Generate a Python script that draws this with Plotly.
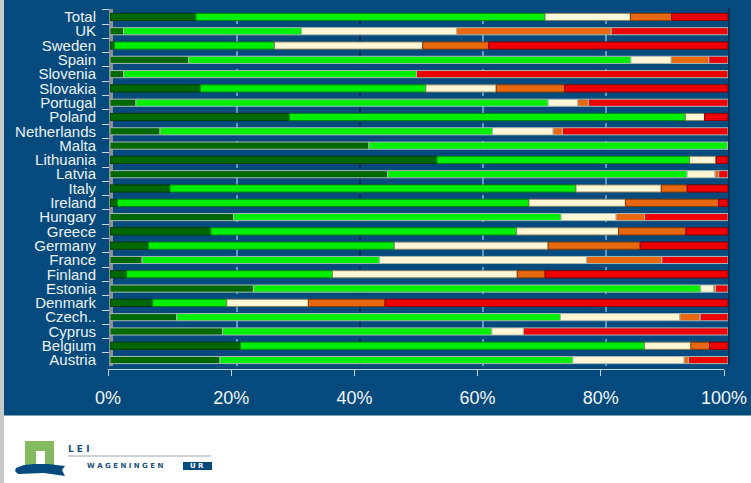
import plotly.graph_objects as go

W, H = 751, 483

countries = ["Total", "UK", "Sweden", "Spain", "Slovenia", "Slovakia", "Portugal", "Poland",
             "Netherlands", "Malta", "Lithuania", "Latvia", "Italy", "Ireland", "Hungary",
             "Greece", "Germany", "France", "Finland", "Estonia", "Denmark", "Czech..",
             "Cyprus", "Belgium", "Austria"]

# cumulative segment ends, percent
end_darkgreen = [13.9, 2.2, 0.7, 12.7, 2.2, 14.6, 4.2, 29.0, 8.1, 41.9, 52.9, 44.9, 9.7, 1.2, 20.0,
                 16.3, 6.2, 5.2, 2.7, 23.2, 6.9, 10.8, 18.2, 21.1, 17.8]
end_green = [70.4, 31.0, 26.6, 84.3, 49.6, 51.1, 70.9, 93.1, 61.9, 100.0, 93.8, 93.4, 75.4, 67.8, 73.0,
             65.8, 46.0, 43.6, 36.0, 95.6, 18.9, 72.9, 61.8, 86.5, 74.9]
end_cream = [84.2, 56.1, 50.6, 90.8, 49.6, 62.5, 75.7, 96.2, 71.7, 100.0, 98.1, 97.9, 89.2, 83.4, 81.9,
             82.3, 70.9, 77.1, 65.9, 97.7, 32.1, 92.2, 66.9, 94.0, 92.9]
end_orange = [90.9, 81.1, 61.3, 96.9, 49.6, 73.6, 77.4, 96.2, 73.2, 100.0, 98.1, 98.5, 93.4, 98.5, 86.5,
              93.2, 85.8, 89.3, 70.4, 98.0, 44.5, 95.5, 66.9, 97.0, 93.6]
end_red = [100.0] * 25

light_rows = {"UK", "Slovenia", "Portugal", "Malta", "Latvia", "Hungary", "France", "Estonia",
              "Cyprus", "Austria", "Spain", "Netherlands", "Czech.."}

x_ticks = [0, 20, 40, 60, 80, 100]
x_labels = ["0%", "20%", "40%", "60%", "80%", "100%"]
grid_values = [20, 40, 60, 80]
grid_colors = ["#7fb2d6", "#0b2a48", "#7fb2d6", "#7fb2d6"]

NAVY = "#044a7c"


def fx(px):
    return px / W


def fy(py):
    return 1 - py / H


segments = [
    ("Share 1", end_darkgreen, None, "#006800", "#003c00"),
    ("Share 2", end_green, end_darkgreen, "#00ee00", "#008a00"),
    ("Share 3", end_cream, end_green, "#fff6d6", "#8a8468"),
    ("Share 4", end_orange, end_cream, "#e8680f", "#8a3c00"),
    ("Share 5", end_red, end_orange, "#ee0000", "#8a0000"),
]

fig = go.Figure()
for name, ends, starts, color, dark in segments:
    base = starts if starts else [0] * len(ends)
    widths = [round(e - b, 2) for e, b in zip(ends, base)]
    edges = ["#a9b9b4" if c in light_rows else dark for c in countries]
    fig.add_trace(go.Bar(
        name=name, y=countries, x=widths, base=base, orientation="h",
        marker=dict(color=color, line=dict(color=edges, width=1)),
        showlegend=False, hoverinfo="skip",
    ))

# carrier for the tick axis
fig.add_trace(go.Scatter(x=[0, 100], y=[countries[-1]] * 2, xaxis="x2", yaxis="y", mode="none",
                         showlegend=False, hoverinfo="skip"))
fig.add_trace(go.Scatter(x=[0, 100], y=[countries[-1]] * 2, xaxis="x3", yaxis="y", mode="none",
                         showlegend=False, hoverinfo="skip"))

shapes = [
    dict(type="rect", xref="paper", yref="paper", x0=fx(4), x1=1, y0=fy(415.5), y1=1,
         fillcolor=NAVY, line_width=0, layer="below"),
    dict(type="rect", xref="paper", yref="paper", x0=0, x1=fx(4), y0=0, y1=1,
         fillcolor="#c9c9c9", line_width=0, layer="below"),
    dict(type="rect", xref="paper", yref="paper", x0=fx(109), x1=fx(113), y0=fy(366), y1=fy(9),
         fillcolor="#8a8f96", line_width=0, layer="below"),
    dict(type="line", xref="paper", yref="paper", x0=fx(729), x1=fx(729), y0=fy(365), y1=fy(8),
         line=dict(color="#0b2a48", width=1.5), layer="below"),
    # logo
    dict(type="rect", xref="paper", yref="paper", x0=fx(25), x1=fx(54), y0=fy(465), y1=fy(441),
         fillcolor="#84b95f", line_width=0, layer="below"),
    dict(type="rect", xref="paper", yref="paper", x0=fx(36), x1=fx(45), y0=fy(464), y1=fy(451),
         fillcolor="#ffffff", line_width=0, layer="below"),
    dict(type="path", xref="paper", yref="paper",
         path=(f"M {fx(16)} {fy(468)} L {fx(24)} {fy(465)} L {fx(34)} {fy(464)} L {fx(48)} {fy(464)} "
               f"L {fx(65)} {fy(466)} L {fx(62)} {fy(470)} L {fx(65)} {fy(476)} L {fx(44)} {fy(473)} "
               f"L {fx(18)} {fy(474)} L {fx(15)} {fy(471)} Z"),
         fillcolor=NAVY, line_width=0, layer="below"),
    dict(type="line", xref="paper", yref="paper", x0=fx(68), x1=fx(211), y0=fy(456), y1=fy(456),
         line=dict(color="#9aa6ae", width=1), layer="below"),
    dict(type="rect", xref="paper", yref="paper", x0=fx(183), x1=fx(212), y0=fy(470), y1=fy(462),
         fillcolor=NAVY, line_width=0, layer="below"),
]
for v, c in zip(grid_values, grid_colors):
    shapes.append(dict(type="line", xref="x3", yref="paper", x0=v, x1=v, y0=fy(366), y1=fy(7),
                       line=dict(color=c, width=1.5, dash="dash"), layer="below"))

anns = [
    dict(text="<b>L E I</b>", x=fx(66), y=fy(449), xref="paper", yref="paper", xanchor="left",
         yanchor="middle", showarrow=False, font=dict(family="DejaVu Sans", size=9, color="#1d4f7c")),
    dict(text="<b>W A G E N I N G E N</b>", x=fx(85), y=fy(466), xref="paper", yref="paper", xanchor="left",
         yanchor="middle", showarrow=False, font=dict(family="DejaVu Sans", size=7, color="#1d4f7c")),
    dict(text="<b>U R</b>", x=fx(197), y=fy(466), xref="paper", yref="paper", xanchor="center",
         yanchor="middle", showarrow=False, font=dict(family="DejaVu Sans", size=7, color="#ffffff")),
]

AX = "#c5d6e2"
fig.update_layout(
    width=W, height=H, margin=dict(l=0, r=0, t=0, b=0, pad=0, autoexpand=False), autosize=False,
    paper_bgcolor="#ffffff", plot_bgcolor="rgba(0,0,0,0)",
    barmode="overlay", bargap=0.5, shapes=shapes, annotations=anns,
    xaxis=dict(domain=[fx(110), fx(728)], range=[0, 100], visible=False, fixedrange=True, automargin=False),
    xaxis2=dict(domain=[fx(108), fx(724)], range=[0, 100], anchor="free", position=fy(369), automargin=False,
                tickvals=x_ticks, ticktext=x_labels, ticks="outside", ticklen=6, tickcolor=AX,
                showline=True, linecolor=AX, showgrid=False, zeroline=False, ticklabelstandoff=6,
                tickfont=dict(family="Liberation Sans", size=18, color="#f2f6f9")),
    xaxis3=dict(domain=[fx(114), fx(729)], range=[0, 100], anchor="free", position=fy(369),
                visible=False, automargin=False),
    yaxis=dict(domain=[fy(367.2), fy(9.8)], range=[24.5, -0.5], type="category", automargin=False,
               categoryorder="array", categoryarray=countries, dtick=1,
               ticks="outside", tickson="boundaries", ticklen=7, tickcolor="#c5d6e2",
               showgrid=False, zeroline=False, showline=False, ticklabelstandoff=13,
               tickfont=dict(family="Liberation Sans", size=15, color="#eef3f7")),
)

fig.write_html("out.html", config={"displayModeBar": False},
               post_script="document.body.style.margin='0';document.body.style.overflow='hidden';")
